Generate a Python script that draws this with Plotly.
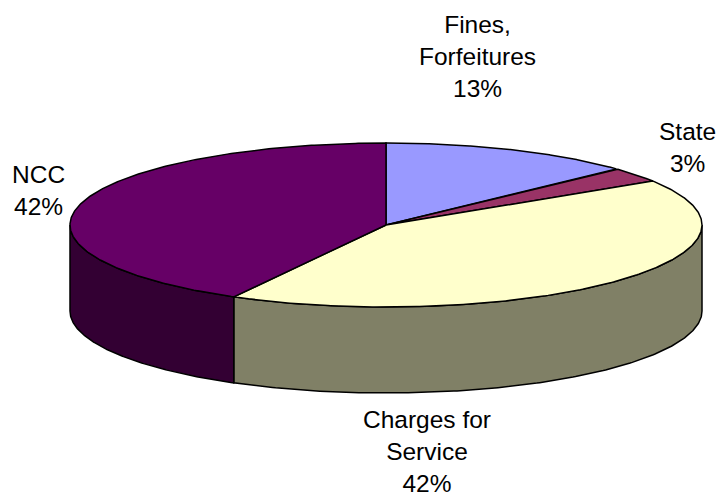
import numpy as np
import plotly.graph_objects as go

# ---- data ----
categories = ["Fines, Forfeitures", "State", "Charges for Service", "NCC"]
values = [13, 3, 42, 42]
label_text = ["Fines,<br>Forfeitures", "State", "Charges for<br>Service", "NCC"]

# ---- style ----
top_colors = ["#9999FF", "#993366", "#FFFFCC", "#660066"]
side_colors = ["#4D4D80", "#4D1A33", "#808066", "#330033"]
label_pos = [(477, 56), (687, 147), (427, 451), (38, 190)]

W, H = 728, 499
cx, cy = 386, 225
rx, ry = 316, 82
depth = 86


def pt(theta_deg, dy=0.0):
    t = np.radians(theta_deg)
    return cx + rx * np.sin(t), cy - ry * np.cos(t) + dy


fig = go.Figure()

total = float(sum(values))
bounds = np.concatenate([[0], np.cumsum(values) / total * 360.0])

# side faces (only the front half, 90..270 degrees, is visible)
for i in range(len(values)):
    a, b = max(bounds[i], 90.0), min(bounds[i + 1], 270.0)
    if b <= a:
        continue
    th = np.linspace(a, b, 200)
    xt, yt = pt(th)
    xb, yb = pt(th[::-1], depth)
    xs = np.concatenate([xt, xb, xt[:1]])
    ys = np.concatenate([yt, yb, yt[:1]])
    fig.add_trace(go.Scatter(x=xs, y=ys, mode="lines", fill="toself",
                             fillcolor=side_colors[i],
                             line=dict(color="black", width=1.5),
                             hoverinfo="text", hovertext=f"{categories[i]}: {values[i]}%",
                             showlegend=False))

# top faces
for i in range(len(values)):
    th = np.linspace(bounds[i], bounds[i + 1], 300)
    xa, ya = pt(th)
    xs = np.concatenate([[cx], xa, [cx]])
    ys = np.concatenate([[cy], ya, [cy]])
    fig.add_trace(go.Scatter(x=xs, y=ys, mode="lines", fill="toself",
                             fillcolor=top_colors[i],
                             line=dict(color="black", width=1.5),
                             hoverinfo="text", hovertext=f"{categories[i]}: {values[i]}%",
                             showlegend=False))

for i in range(len(values)):
    pct = round(values[i] / total * 100)
    fig.add_annotation(x=label_pos[i][0], y=label_pos[i][1], xref="x", yref="y",
                       text=f"{label_text[i]}<br>{pct}%", showarrow=False,
                       font=dict(family="Liberation Sans, Arial, sans-serif", size=24.5, color="black"),
                       align="center", xanchor="center", yanchor="middle")

fig.update_layout(
    width=W, height=H,
    margin=dict(l=0, r=0, t=0, b=0),
    paper_bgcolor="white", plot_bgcolor="white",
    xaxis=dict(range=[0, W], visible=False, fixedrange=True),
    yaxis=dict(range=[H, 0], visible=False, fixedrange=True),
    showlegend=False,
)

fig.write_html("out.html", config={"displayModeBar": False},
               post_script="document.body.style.margin='0';")
